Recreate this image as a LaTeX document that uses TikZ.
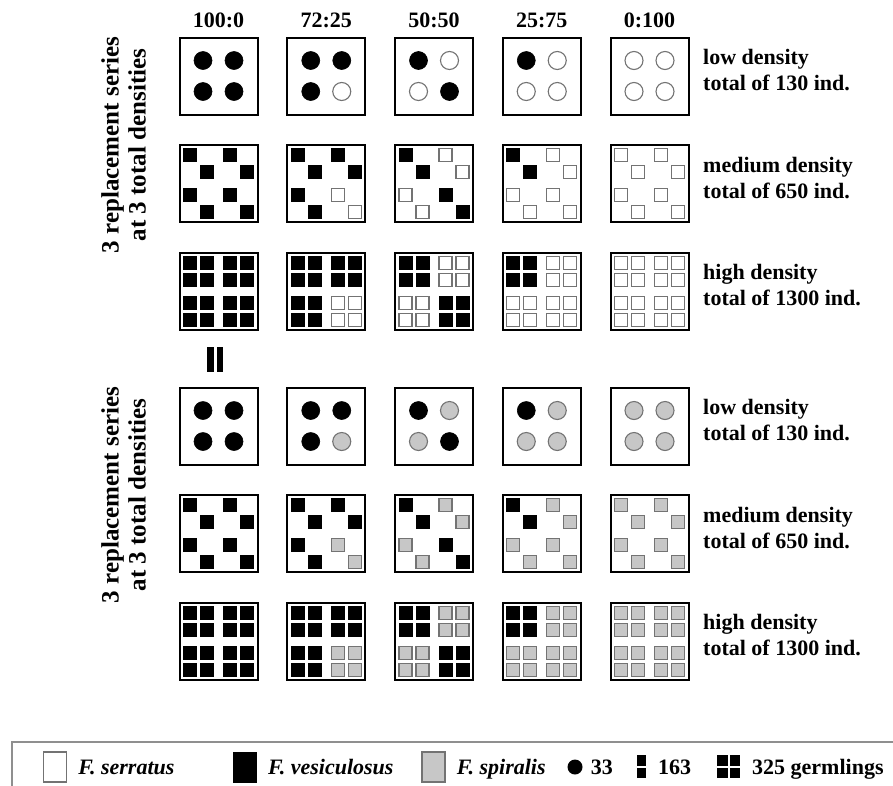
\documentclass[tikz,border=0pt]{standalone}
\usepackage{fontspec}
\setmainfont{Liberation Serif}
\usetikzlibrary{positioning}
\definecolor{spgray}{gray}{0.78}
\definecolor{rimgray}{gray}{0.45}

\begin{document}
\begin{tikzpicture}[
  x=1pt, y=-1pt,
  font=\fontsize{22pt}{26pt}\selectfont\bfseries,
  cell/.style={draw, line width=2pt, minimum width=78pt, minimum height=77pt, inner sep=0pt},
  fv/.style={fill=black, draw=black, line width=0.6pt},
  fs/.style={fill=white, draw=rimgray, line width=1.1pt},
  fsp/.style={fill=spgray, draw=rimgray, line width=1.1pt},
  hdr/.style={inner sep=0pt},
  dens/.style={anchor=west, align=left, inner sep=0pt},
  side/.style={rotate=90, align=center, inner sep=0pt, font=\fontsize{25pt}{27pt}\selectfont\bfseries},
  swatch/.style={minimum width=23pt, minimum height=30pt, inner sep=0pt},
  dotkey/.style={circle, fill=black, minimum size=15pt, inner sep=0pt},
  key/.style={anchor=west, inner sep=0pt, text height=14pt, text depth=0pt},
  frame/.style={draw=rimgray!80, line width=1.3pt},
  node distance=11pt]
\useasboundingbox (0,0) rectangle (893,785);
\clip (0,0) rectangle (893,785);
% --- ratio headers ---
\foreach \c/\txt in {0/100:0, 1/72:25, 2/50:50, 3/25:75, 4/0:100}
  \node[hdr] (hdr\c) at (218.5+107.75*\c, 20) {\txt};
% --- two sets of 3 x 5 cells ---
\foreach \s/\oth/\ty in {0/fs/0, 1/fsp/350} {
  \foreach \c/\qa/\qb/\qc/\qd in {0/fv/fv/fv/fv, 1/fv/fv/fv/\oth, 2/fv/\oth/\oth/fv, 3/fv/\oth/\oth/\oth, 4/\oth/\oth/\oth/\oth} {
    \pgfmathsetmacro{\cx}{218.5+107.75*\c}
    \foreach \r in {0,1,2} {
      \pgfmathsetmacro{\cy}{76+107.75*\r+\ty}
      \node[cell] (cell-\s-\r-\c) at (\cx,\cy) {};
      \foreach \sx/\sy/\f in {-1/-1/\qa, 1/-1/\qb, -1/1/\qc, 1/1/\qd} {
        \ifcase\r
          \draw[\f] (\cx+15.5*\sx, \cy+15.5*\sy) circle[radius=9pt];
        \or
          \draw[\f] (\cx+20*\sx-15, \cy+20*\sy-15) rectangle ++(13,13);
          \draw[\f] (\cx+20*\sx+2, \cy+20*\sy+2) rectangle ++(13,13);
        \or
          \draw[\f] (\cx+20*\sx-15, \cy+20*\sy-15) rectangle ++(13,13);
          \draw[\f] (\cx+20*\sx+2, \cy+20*\sy-15) rectangle ++(13,13);
          \draw[\f] (\cx+20*\sx-15, \cy+20*\sy+2) rectangle ++(13,13);
          \draw[\f] (\cx+20*\sx+2, \cy+20*\sy+2) rectangle ++(13,13);
        \fi
      }
    }
  }
  % --- density labels ---
  \foreach \r/\lo/\nn in {0/low/130, 1/medium/650, 2/high/1300}
    \node[dens] (dens-\s-\r) at (703, 70+107.75*\r+\ty) {\lo{} density\\total of \nn{} ind.};
}
% --- side labels ---
\node[side] (side0) at (123.5,145) {3 replacement series\\at 3 total densities};
\node[side] (side1) at (123.5,495) {3 replacement series\\at 3 total densities};
\fill (207,347) rectangle (214,372);
\fill (216.5,347) rectangle (223,372);
% --- legend ---
\draw[frame] (12,800) -- (12,742) -- (900,742);
\node[swatch, fs] (k-fs) at (55,767) {};
\node[key, right=of k-fs] (t-fs) {\itshape F. serratus};
\node[swatch, fv] (k-fv) at (245,767) {};
\node[key, right=of k-fv] (t-fv) {\itshape F. vesiculosus};
\node[swatch, fsp] (k-fsp) at (433.5,767) {};
\node[key, right=of k-fsp] (t-fsp) {\itshape F. spiralis};
\node[dotkey] (k-33) at (575,767) {};
\node[key, right=8pt of k-33] (t-33) {33};
\fill (637,755) rectangle ++(9,10.5);
\fill (637,767.5) rectangle ++(9,10.5);
\node[key] (t-163) at (658,767) {163};
\foreach \dx/\dy in {0/0, 12.5/0, 0/12.5, 12.5/12.5}
  \fill (717+\dx,755+\dy) rectangle ++(10.5,10.5);
\node[key] (t-325) at (752,767) {325 germlings};
\end{tikzpicture}
\end{document}
